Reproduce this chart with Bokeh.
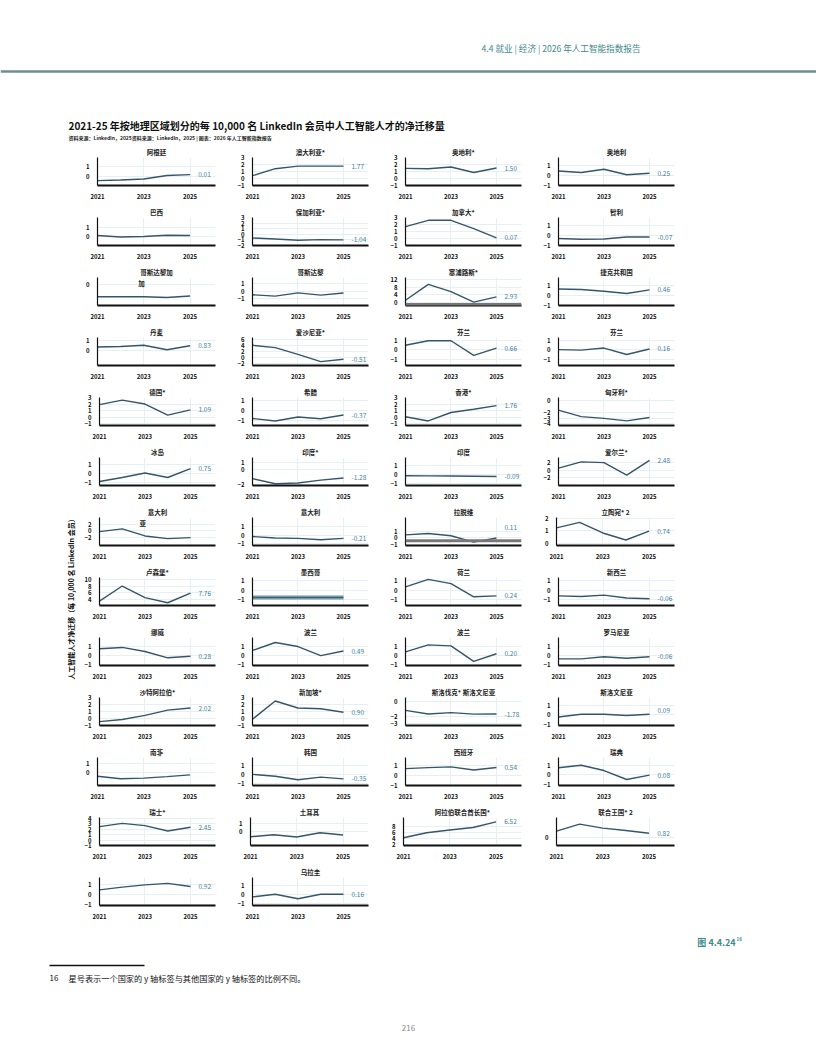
import math
from bokeh.plotting import figure
from bokeh.layouts import column, row
from bokeh.models import Range1d, FixedTicker, Title, Span
from bokeh.embed import file_html
from bokeh.resources import INLINE
from bokeh.core.properties import value

FONT = "Noto Sans CJK SC"

YEARS = [2021, 2022, 2023, 2024, 2025]
X_TICKS = [2021, 2023, 2025]
X_TICK_LABELS = {2021: "2021", 2023: "2023", 2025: "2025"}

HEADER = "4.4 就业 | 经济 | 2026 年人工智能指数报告"
TITLE = "2021-25 年按地理区域划分的每 10,000 名 LinkedIn 会员中人工智能人才的净迁移量"
SUBTITLE = "资料来源：LinkedIn，2025资料来源：LinkedIn，2025 | 图表：2026 年人工智能指数报告"
Y_LABEL = "人工智能人才净迁移（每 10,000 名 LinkedIn 会员）"
FIG_LABEL = "图 4.4.24"
FIG_SUP = "16"
FOOTNOTE_NO = "16"
FOOTNOTE = "星号表示一个国家的 y 轴标签与其他国家的 y 轴标签的比例不同。"
PAGE_NO = "216"

COUNTRIES = [
    "阿根廷", "澳大利亚*", "奥地利*", "奥地利",
    "巴西", "保加利亚*", "加拿大*", "智利",
    "哥斯达黎加", "哥斯达黎", "塞浦路斯*", "捷克共和国",
    "丹麦", "爱沙尼亚*", "芬兰", "芬兰",
    "德国*", "希腊", "香港*", "匈牙利*",
    "冰岛", "印度*", "印度", "爱尔兰*",
    "意大利", "意大利", "拉脱维", "立陶宛* 2",
    "卢森堡*", "墨西哥", "荷兰", "新西兰",
    "挪威", "波兰", "波兰", "罗马尼亚",
    "沙特阿拉伯*", "新加坡*", "斯洛伐克* 斯洛文尼亚", "斯洛文尼亚",
    "南非", "韩国", "西班牙", "瑞典",
    "瑞士*", "土耳其", "阿拉伯联合酋长国*", "联合王国* 2",
    "", "乌拉圭",
]
# stray second-line characters printed under two titles
SECOND_LINE = {8: "加", 24: "亚"}

VALUES = [
    [-0.48, -0.41, -0.31, 0.07, 0.17], [0.4, 1.4, 1.77, 1.77, 1.77], [1.45, 1.4, 1.65, 0.85, 1.5], [0.4, 0.25, 0.58, 0.03, 0.18],
    [0.07, -0.1, -0.04, 0.1, 0.07], [-0.65, -0.85, -1.05, -0.95, -1.0], [1.7, 2.6, 2.6, 1.4, 0.1], [-0.3, -0.38, -0.35, -0.15, -0.15],
    [-1.65, -1.65, -1.65, -1.75, -1.55], [-0.45, -0.63, -0.2, -0.5, -0.22], [1.2, 9.6, 5.7, 0.15, 2.93], [0.65, 0.6, 0.42, 0.2, 0.56],
    [0.31, 0.37, 0.5, 0.03, 0.44], [4.0, 3.25, 1.1, -1.25, -0.51], [0.5, 1.0, 1.0, -0.6, 0.2], [0.03, -0.03, 0.2, -0.5, 0.1],
    [1.9, 2.6, 2.0, 0.3, 1.09], [-0.8, -1.05, -0.65, -0.82, -0.45], [0.05, -0.6, 0.7, 1.2, 1.76], [-1.6, -2.75, -3.05, -3.5, -2.9],
    [-0.9, -0.45, 0.05, -0.45, 0.55], [-1.25, -1.95, -1.85, -1.45, -1.15], [-0.12, -0.13, -0.15, -0.17, -0.2], [0.5, 2.2, 2.0, -1.4, 2.6],
    [-0.3, 0.55, -1.6, -2.4, -2.1], [-0.17, -0.35, -0.38, -0.55, -0.38], [0.45, 0.65, 0.33, -0.6, 0.0], [1.25, 1.7, 0.83, 0.25, 0.98],
    [3.6, 8.0, 4.6, 3.1, 5.9], [-0.77, -0.77, -0.77, -0.77, -0.77], [0.33, 1.1, 0.67, -0.7, -0.6], [-0.6, -0.67, -0.53, -0.83, -0.9],
    [0.75, 0.9, 0.45, -0.25, -0.07], [0.57, 1.45, 1.0, 0.0, 0.5], [0.4, 1.18, 1.07, -0.65, 0.2], [-0.37, -0.37, -0.13, -0.3, -0.13],
    [-0.45, -0.15, 0.45, 1.2, 1.5], [-0.1, 2.5, 1.5, 1.4, 0.9], [-1.2, -1.7, -1.5, -1.72, -1.7], [-0.22, 0.06, 0.06, -0.06, 0.06],
    [-0.43, -0.7, -0.63, -0.47, -0.27], [0.03, -0.17, -0.57, -0.27, -0.47], [0.7, 0.8, 0.88, 0.55, 0.82], [0.74, 1.0, 0.45, -0.48, -0.03],
    [2.5, 3.1, 2.7, 1.7, 2.4], [-0.6, -0.37, -0.63, -0.13, -0.4], [4.3, 5.9, 6.8, 7.6, 9.4], [0.8, 1.72, 1.2, 0.88, 0.52],
    [0.43, 0.7, 0.93, 1.07, 0.77], [-0.25, 0.05, -0.45, 0.05, 0.05],
]

END_LABELS = [
    "0.01", "1.77", "1.50", "0.25",
    "", "-1.04", "0.07", "-0.07",
    "", "", "2.93", "0.46",
    "0.83", "-0.51", "0.66", "0.16",
    "1.09", "-0.37", "1.76", "",
    "0.75", "-1.28", "-0.09", "2.48",
    "", "-0.21", "0.11", "0.74",
    "7.76", "", "0.24", "-0.06",
    "0.28", "0.49", "0.20", "-0.06",
    "2.02", "0.90", "-1.78", "0.09",
    "", "-0.35", "0.54", "0.08",
    "2.45", "", "6.52", "0.82",
    "0.92", "0.16",
]

Y_RANGES = [
    (-1, 2), (-1, 3), (-1, 3), (-1.05, 1.75),
    (-1.1, 2.2), (-2, 3), (-1, 3), (-1, 1.8),
    (-2.8, 0.9), (-1.85, 1.8), (-1.6, 13.2), (-1, 1.8),
    (-1.6, 1.3), (-2.5, 6.5), (-1.7, 1.35), (-1.7, 1.35),
    (-1.3, 3), (-1.5, 1.3), (-1.3, 3), (-4.3, 0.6),
    (-1.35, 1.8), (-2.2, 1.7), (-1.2, 1.9), (-4.2, 3.4),
    (-4.5, 4.0), (-1.2, 2.0), (-1.1, 3.0), (-0.2, 2.1),
    (2.3, 10.5), (-1.6, 1.3), (-1.6, 1.3), (-1.6, 1.3),
    (-1.1, 2.0), (-1.1, 2.0), (-1.1, 2.0), (-1.1, 2.0),
    (-1, 3), (-1, 3), (-3.3, 0.6), (-1.1, 1.8),
    (-1.45, 1.65), (-1.2, 1.9), (-1.05, 1.85), (-1.1, 1.8),
    (-1, 4.2), (-1.65, 1.7), (1.8, 10.8), (-1.1, 2.6),
    (-1.1, 1.65), (-1.2, 1.9),
]

Y_TICKS = [
    [0, 1], [-1, 0, 1, 2, 3], [-1, 0, 1, 2, 3], [-1, 0, 1],
    [0, 1], [-2, -1, 0, 1, 2, 3], [-1, 0, 1, 2, 3], [-1, 0, 1],
    [0], [-1, 0, 1], [0, 4, 8, 12], [-1, 0, 1],
    [0, 1], [-2, 0, 2, 4, 6], [-1, 0, 1], [-1, 0, 1],
    [-1, 0, 1, 2, 3], [-1, 0, 1], [-1, 0, 1, 2, 3], [-4, -3, -2, 0],
    [-1, 0, 1], [-2, 0, 1], [-1, 0, 1], [-2, 0, 2],
    [-2, 0, 2], [-1, 0, 1], [-1, 0, 1], [0, 1, 2],
    [4, 6, 8, 10], [-1, 0, 1], [-1, 0, 1], [-1, 0, 1],
    [-1, 0, 1], [-1, 0, 1], [-1, 0, 1], [-1, 0, 1],
    [-1, 0, 1, 2, 3], [-1, 0, 1, 2, 3], [-3, -2, 0], [-1, 0, 1],
    [0, 1], [-1, 0, 1], [-1, 0, 1], [-1, 0, 1],
    [-1, 0, 1, 2, 3, 4], [0, 1], [2, 4, 6, 8], [0],
    [-1, 0, 1], [-1, 0, 1],
]

# extra decorations (styles), keyed by panel title
BANDS = {"塞浦路斯*": -1.1, "拉脱维": -0.4}
THICK_LINE = {"墨西哥"}
LABEL_Y = {"拉脱维": 1.5, "斯洛文尼亚": 0.45}

LINE_COLOR = "#35566a"
LABEL_COLOR = "#3f7f9f"
GRID_COLOR = "#e6eff1"
TEAL = "#3f8a8c"

N_COLS = 4
PW, PH = 153, 60
X_END = 2026.1


def panel(i):
    name = COUNTRIES[i]
    lo, hi = Y_RANGES[i]
    p = figure(width=PW, height=PH, x_range=Range1d(2021, X_END),
               y_range=Range1d(lo, hi), output_backend="svg",
               toolbar_location=None, min_border_left=16, min_border_right=19,
               min_border_top=13, min_border_bottom=19)
    p.outline_line_color = None
    p.background_fill_color = None
    p.border_fill_color = None
    if name:
        p.title.text = name
        p.title.align = "center"
        p.title.text_font = FONT
        p.title.text_font_size = "6.5px"
        p.title.text_font_style = "bold"
        p.title.text_color = "#222222"
        p.title.standoff = 1
    else:
        p.title.visible = False
    p.xaxis.ticker = FixedTicker(ticks=X_TICKS)
    p.xaxis.major_label_overrides = X_TICK_LABELS
    p.yaxis.ticker = FixedTicker(ticks=Y_TICKS[i])
    for ax in (p.xaxis, p.yaxis):
        ax.major_tick_line_color = None
        ax.minor_tick_line_color = None
        ax.major_label_text_font = FONT
        ax.major_label_text_font_size = "6px"
        ax.major_label_text_font_style = "bold"
        ax.major_label_text_color = "#111111"
        ax.major_label_standoff = 2
        ax.axis_line_color = "#111111"
    p.xaxis.axis_line_width = 2
    p.yaxis.axis_line_width = 1.2
    p.xgrid.ticker = FixedTicker(ticks=X_TICKS)
    p.xgrid.grid_line_color = GRID_COLOR
    p.ygrid.grid_line_color = GRID_COLOR
    if i in SECOND_LINE:
        p.text(x=[2022.9], y=[hi], text=[SECOND_LINE[i]], text_font=value(FONT),
               text_font_size="6.5px", text_font_style="bold", text_color="#222222",
               text_baseline="top", text_align="center")
    if name in BANDS:
        p.add_layout(Span(location=BANDS[name], dimension="width",
                          line_color="#777777", line_width=3))
    if name in THICK_LINE:
        p.line(YEARS, VALUES[i], line_color="#6f97a6", line_width=4)
        p.line(YEARS, VALUES[i], line_color=LINE_COLOR, line_width=0.8)
    else:
        p.line(YEARS, VALUES[i], line_color=LINE_COLOR, line_width=1.4)
    lab = END_LABELS[i]
    if lab:
        ly = LABEL_Y.get(name, VALUES[i][-1])
        p.text(x=[2025.35], y=[ly], text=[lab], text_font=value(FONT),
               text_font_size="6.5px", text_color=LABEL_COLOR,
               text_baseline="middle", text_align="left")
    return p


def blank(w, h):
    p = figure(width=w, height=h, x_range=Range1d(0, w), y_range=Range1d(h, 0),
               x_axis_type=None, y_axis_type=None, output_backend="svg",
               toolbar_location=None, min_border=0)
    p.outline_line_color = None
    p.xgrid.visible = False
    p.ygrid.visible = False
    return p


# header (page coordinates)
hdr = blank(816, 144)
hdr.text(x=[640], y=[47], text=[HEADER], text_font=value(FONT), text_font_size="8.6px",
         text_color=TEAL, text_align="right", text_baseline="middle")
hdr.add_layout(Span(location=71, dimension="width", line_color="#6c8f8f", line_width=2.5))
hdr.text(x=[68], y=[125], text=[TITLE], text_font=value(FONT), text_font_size="10px",
         text_font_style="bold", text_color="#111111", text_align="left", text_baseline="middle")
hdr.text(x=[68], y=[137], text=[SUBTITLE], text_font=value(FONT), text_font_size="5px",
         text_font_style="bold", text_color="#222222", text_align="left", text_baseline="middle")

# y label column
n_rows = math.ceil(len(COUNTRIES) / N_COLS)
ylab = blank(81, PH * n_rows)
ylab.text(x=[70], y=[453], text=[Y_LABEL], text_font=value(FONT), text_font_size="7px",
          text_font_style="bold", text_color="#111111", text_align="center",
          text_baseline="middle", angle=math.pi / 2)

rows = []
for r in range(n_rows):
    figs = [panel(i) for i in range(r * N_COLS, min((r + 1) * N_COLS, len(COUNTRIES)))]
    rows.append(row(*figs))
grid = column(*rows)

# footer (page x, y relative to 924)
ftr = blank(816, 120)
ftr.text(x=[735], y=[18], text=[FIG_LABEL], text_font=value(FONT), text_font_size="9px",
         text_font_style="bold", text_color=TEAL, text_align="right", text_baseline="middle")
ftr.text(x=[736], y=[14], text=[FIG_SUP], text_font=value(FONT), text_font_size="4.5px",
         text_font_style="bold", text_color=TEAL, text_align="left", text_baseline="middle")
ftr.segment(x0=[49], y0=[41], x1=[144], y1=[41], line_color="#111111", line_width=1.5)
ftr.text(x=[49], y=[53], text=[FOOTNOTE_NO], text_font=value(FONT), text_font_size="8px",
         text_color="#111111", text_align="left", text_baseline="middle")
ftr.text(x=[68], y=[53], text=[FOOTNOTE], text_font=value(FONT), text_font_size="8.2px",
         text_color="#111111", text_align="left", text_baseline="middle")
ftr.text(x=[408], y=[103], text=[PAGE_NO], text_font=value(FONT), text_font_size="8px",
         text_color="#888888", text_align="center", text_baseline="middle")

page = column(hdr, row(ylab, grid), ftr)
open("out.html", "w").write(file_html(page, INLINE))
